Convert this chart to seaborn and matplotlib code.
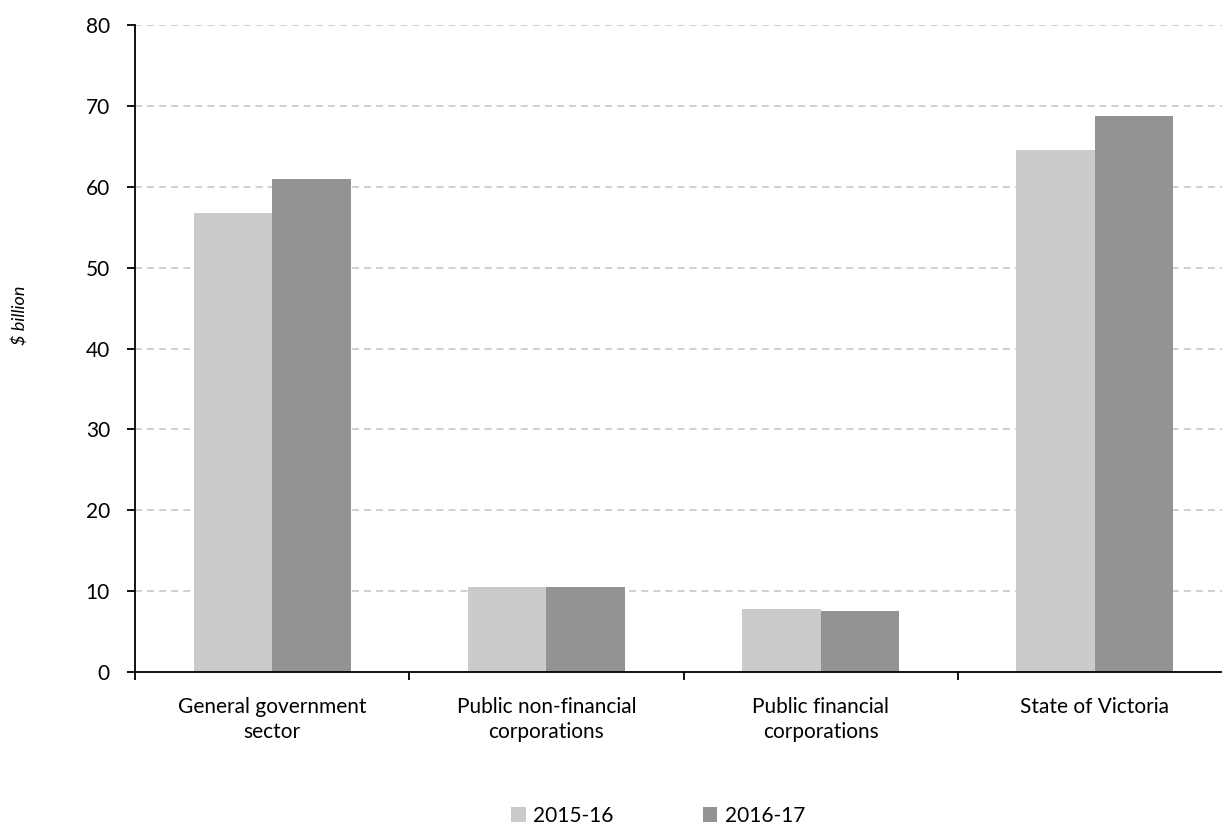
import matplotlib
matplotlib.use("Agg")
import matplotlib.pyplot as plt
import seaborn as sns
import pandas as pd

categories = ["General government\nsector", "Public non-financial\ncorporations",
              "Public financial\ncorporations", "State of Victoria"]
years = ["2015-16", "2016-17"]
values_2015_16 = [56.8, 10.5, 7.75, 64.6]
values_2016_17 = [61.0, 10.5, 7.55, 68.8]
colors = ["#CBCBCB", "#939393"]

df = pd.DataFrame({
    "category": categories * 2,
    "year": [years[0]] * 4 + [years[1]] * 4,
    "value": values_2015_16 + values_2016_17,
})

sns.set_theme(style="white")
plt.rcParams["font.family"] = ["Lato", "DejaVu Sans"]
plt.rcParams["text.color"] = "black"
plt.rcParams["axes.labelcolor"] = "black"
plt.rcParams["xtick.color"] = "black"
plt.rcParams["ytick.color"] = "black"

W, H = 1222, 826
fig = plt.figure(figsize=(W / 100, H / 100), dpi=100)
left, right, top, bottom = 135, 1232, 25, 672
ax = fig.add_axes([left / W, 1 - bottom / H, (right - left) / W, (bottom - top) / H])

sns.barplot(data=df, x="category", y="value", hue="year", palette=colors,
            width=0.573, gap=0, ax=ax, legend=True, saturation=1,
            edgecolor="none", linewidth=0)

ax.set_ylim(0, 80)
ax.set_xlim(-0.5, 3.5)
ax.set_yticks(range(0, 81, 10))
ax.yaxis.grid(True, color="#D0D0D0", linestyle=(0, (3.6, 2.6)), linewidth=1.4)
ax.set_axisbelow(True)
for s in ["top", "right"]:
    ax.spines[s].set_visible(False)
for s in ["left", "bottom"]:
    ax.spines[s].set_color("black")
    ax.spines[s].set_linewidth(1.3)

ax.tick_params(axis="y", which="major", direction="out", length=6, width=1.3,
               color="black", labelsize=15, pad=12, left=True)
ax.set_xticks([0, 1, 2, 3])
ax.set_xticklabels(categories, fontsize=15, linespacing=1.3)
ax.tick_params(axis="x", which="major", length=0, pad=18)
ax.set_xticks([-0.5, 0.5, 1.5, 2.5], minor=True)
ax.tick_params(axis="x", which="minor", direction="out", length=6, width=1.3,
               color="black", bottom=True)

ax.set_xlabel("")
ax.set_ylabel(r"\$ billion", fontsize=13, style="italic")
ax.yaxis.set_label_coords((28 - left) / (right - left), (672 - 315) / (bottom - top))

handles, labels = ax.get_legend_handles_labels()
ax.get_legend().remove()
fig.legend(handles, labels, loc="center", bbox_to_anchor=(658 / W, 1 - 816 / H),
           ncol=2, frameon=False, fontsize=15, handlelength=0.7, handleheight=0.7,
           handletextpad=0.35, columnspacing=4.3)

fig.savefig("out.png", dpi=100)
